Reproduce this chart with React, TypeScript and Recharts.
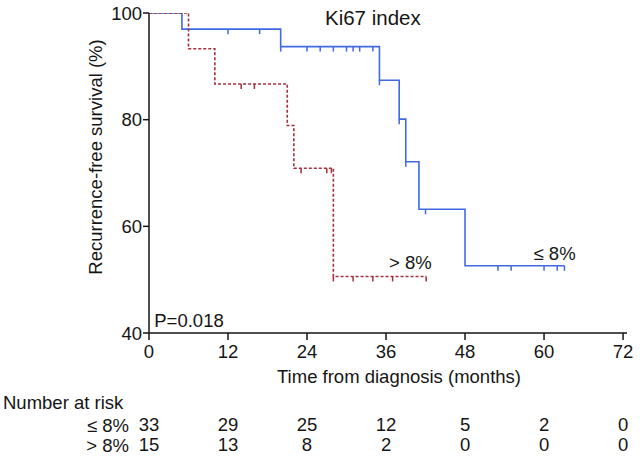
import React from 'react';
import { ComposedChart, Line, Scatter, XAxis, YAxis, ReferenceDot } from 'recharts';

// Tick labels / categories
const monthTicks = [0, 12, 24, 36, 48, 60, 72];
const survTicks = [40, 60, 80, 100];

// Number at risk
const riskLow = [33, 29, 25, 12, 5, 2, 0];
const riskHigh = [15, 13, 8, 2, 0, 0, 0];

// Kaplan-Meier curve, Ki67 <= 8%
const lowTimes = [0, 5, 20, 35, 38, 39, 41, 48, 63.1];
const lowSurv = [100, 96.97, 93.7, 87.4, 80.1, 72.1, 63.2, 52.6, 52.6];
// censored observations, Ki67 <= 8%
const lowCensorTimes = [12, 16.8, 20, 24, 26, 28, 30, 31, 32, 34, 35, 38, 39, 42, 53, 55, 60, 62, 63.1];
const lowCensorSurv = [96.97, 96.97, 93.7, 93.7, 93.7, 93.7, 93.7, 93.7, 93.7, 93.7, 87.4, 80.1, 72.1, 63.2, 52.6, 52.6, 52.6, 52.6, 52.6];

// Kaplan-Meier curve, Ki67 > 8%
const highTimes = [0, 6, 10, 21, 22, 28, 42.1];
const highSurv = [100, 93.3, 86.7, 78.9, 70.9, 50.6, 50.6];
// censored observations, Ki67 > 8%
const highCensorTimes = [14, 16, 23.1, 27, 27.7, 28, 31, 34, 37, 42.1];
const highCensorSurv = [86.7, 86.7, 70.9, 70.9, 70.9, 50.6, 50.6, 50.6, 50.6, 50.6];

const lowCurve = lowTimes.map((t, i) => ({ t, s: lowSurv[i] }));
const highCurve = highTimes.map((t, i) => ({ t, s: highSurv[i] }));
const lowCensor = lowCensorTimes.map((t, i) => ({ t, s: lowCensorSurv[i] }));
const highCensor = highCensorTimes.map((t, i) => ({ t, s: highCensorSurv[i] }));

const BLUE = '#4169e1';
const RED = '#a3303e';
const INK = '#151515';
const FONT = '"Liberation Sans", Arial, sans-serif';
const FS = 18.5;
const X_DOMAIN: [number, number] = [0, 72.6];

const censorShape = (color: string) => (props: any) => {
  const { cx, cy } = props;
  if (cx == null || cy == null) return <g />;
  return <line x1={cx} x2={cx} y1={cy} y2={cy + 5} stroke={color} strokeWidth={1.5} />;
};

const xLabel = (props: any) => {
  const vb = props.viewBox || {};
  return (
    <text x={vb.x + vb.width / 2 + 11} y={vb.y + 50} textAnchor="middle" fontSize={FS} fill={INK} fontFamily={FONT}>
      Time from diagnosis (months)
    </text>
  );
};

const yLabel = (props: any) => {
  const vb = props.viewBox || {};
  const cx = vb.x + 95;
  const cy = vb.y + vb.height / 2 - 16;
  return (
    <text x={cx} y={cy} transform={`rotate(-90 ${cx} ${cy})`} textAnchor="middle" dominantBaseline="central" fontSize={FS} fill={INK} fontFamily={FONT}>
      Recurrence-free survival (%)
    </text>
  );
};

const riskLabel1 = (props: any) => {
  const vb = props.viewBox || {};
  return (
    <g fontFamily={FONT} fontSize={FS} fill={INK}>
      <text x={3} y={vb.y + 17.5} textAnchor="start">Number at risk</text>
      <text x={vb.x - 20} y={vb.y + 40.5} textAnchor="end">≤ 8%</text>
    </g>
  );
};

const riskLabel2 = (props: any) => {
  const vb = props.viewBox || {};
  return (
    <text x={vb.x - 20} y={vb.y + 40.5} textAnchor="end" fontFamily={FONT} fontSize={FS} fill={INK}>
      &gt; 8%
    </text>
  );
};

const tickStyle = { fontSize: FS, fill: INK, fontFamily: FONT };

export default function App() {
  return (
    <div style={{ position: 'absolute', left: 0, top: 0, width: 640, height: 459, background: '#fff' }}>
      <ComposedChart
        width={640}
        height={459}
        margin={{ top: 13, right: 13, bottom: 28, left: 0 }}
        style={{ fontFamily: FONT }}
      >
        <XAxis
          xAxisId={0}
          type="number"
          dataKey="t"
          domain={X_DOMAIN}
          allowDataOverflow
          ticks={monthTicks}
          tickSize={7}
          tickMargin={5}
          height={58}
          stroke={INK}
          strokeWidth={1.5}
          tick={tickStyle}
          label={xLabel}
        />
        <XAxis
          xAxisId="r1"
          type="number"
          dataKey="t"
          domain={X_DOMAIN}
          allowDataOverflow
          ticks={monthTicks}
          tickFormatter={(v: number, i: number) => String(riskLow[i])}
          axisLine={false}
          tickLine={false}
          tickSize={0}
          tickMargin={27}
          height={20}
          tick={tickStyle}
          label={riskLabel1}
        />
        <XAxis
          xAxisId="r2"
          type="number"
          dataKey="t"
          domain={X_DOMAIN}
          allowDataOverflow
          ticks={monthTicks}
          tickFormatter={(v: number, i: number) => String(riskHigh[i])}
          axisLine={false}
          tickLine={false}
          tickSize={0}
          tickMargin={27}
          height={20}
          tick={tickStyle}
          label={riskLabel2}
        />
        <YAxis
          type="number"
          dataKey="s"
          domain={[40, 100]}
          allowDataOverflow
          ticks={survTicks}
          tickSize={6}
          tickMargin={1}
          width={149}
          stroke={INK}
          strokeWidth={1.5}
          tick={tickStyle}
          label={yLabel}
        />
        <Line
          data={lowCurve}
          dataKey="s"
          type="stepAfter"
          stroke={BLUE}
          strokeWidth={1.6}
          dot={false}
          activeDot={false}
          isAnimationActive={false}
        />
        <Line
          data={highCurve}
          dataKey="s"
          type="stepAfter"
          stroke={RED}
          strokeWidth={1.6}
          strokeDasharray="3 2"
          dot={false}
          activeDot={false}
          isAnimationActive={false}
        />
        <Scatter data={lowCensor} dataKey="s" shape={censorShape(BLUE)} isAnimationActive={false} />
        <Scatter data={highCensor} dataKey="s" shape={censorShape(RED)} isAnimationActive={false} />
        <ReferenceDot x={34} y={99.2} r={0} fill="none" stroke="none"
          label={{ value: 'Ki67 index', position: 'center', fontSize: 20.5, fill: INK, fontFamily: FONT }} />
        <ReferenceDot x={39.7} y={53.2} r={0} fill="none" stroke="none"
          label={{ value: '> 8%', position: 'center', fontSize: FS, fill: INK, fontFamily: FONT }} />
        <ReferenceDot x={61.6} y={54.9} r={0} fill="none" stroke="none"
          label={{ value: '≤ 8%', position: 'center', fontSize: FS, fill: INK, fontFamily: FONT }} />
        <ReferenceDot x={0.8} y={42.4} r={0} fill="none" stroke="none"
          label={{ value: 'P=0.018', position: 'right', offset: 0, fontSize: FS, fill: INK, fontFamily: FONT }} />
      </ComposedChart>
    </div>
  );
}
